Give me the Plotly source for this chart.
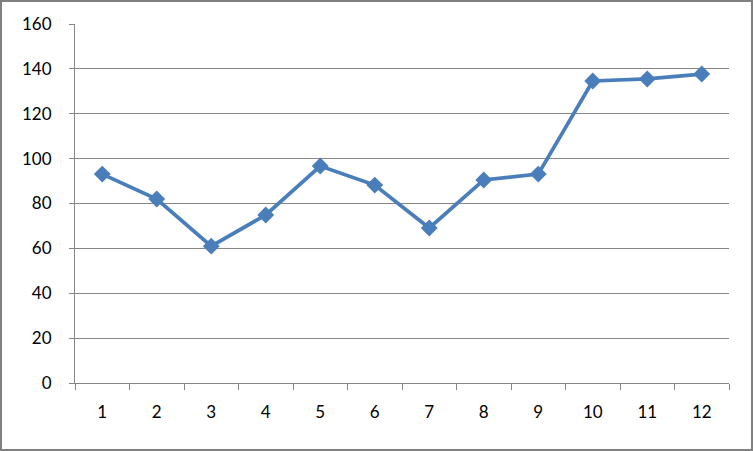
import plotly.graph_objects as go

categories = ["1", "2", "3", "4", "5", "6", "7", "8", "9", "10", "11", "12"]
values = [93.1, 82.0, 61.0, 74.9, 96.7, 88.2, 69.1, 90.5, 93.1, 134.6, 135.5, 137.7]
y_ticks = [0, 20, 40, 60, 80, 100, 120, 140, 160]

W, H = 753, 451
L, R, T, B = 75, 24, 24, 68
pw, ph = W - L - R, H - T - B

fig = go.Figure()
fig.add_trace(go.Scatter(
    x=categories, y=values, mode="lines+markers",
    line=dict(color="#4A7EBB", width=3.75),
    marker=dict(symbol="diamond", size=13, color="#4A7EBB"),
    showlegend=False,
))

font = dict(family="Lato, Carlito, 'Open Sans', sans-serif", size=17, color="#000000")
fig.update_layout(
    width=W, height=H,
    margin=dict(l=L, r=R, t=T, b=B),
    paper_bgcolor="white", plot_bgcolor="white",
    font=font,
    xaxis=dict(
        type="category", tickson="boundaries", ticks="outside", ticklen=6,
        tickcolor="#868686", showline=True, linecolor="#868686", linewidth=1,
        showgrid=False, range=[-0.5, 11.5], ticklabelstandoff=14,
        tickfont=font, zeroline=False,
    ),
    yaxis=dict(
        range=[0, 160], tickvals=y_ticks, ticks="outside", ticklen=5,
        tickcolor="#868686", showline=True, linecolor="#868686", linewidth=1,
        showgrid=True, gridcolor="#868686", gridwidth=1, zeroline=False,
        ticklabelstandoff=14, tickfont=font,
    ),
    shapes=[dict(
        type="rect", xref="paper", yref="paper",
        x0=(1 - L) / pw, x1=(752 - L) / pw,
        y0=(H - B - 450) / ph, y1=(H - B - 1) / ph,
        line=dict(color="#808080", width=2), fillcolor="rgba(0,0,0,0)",
    )],
)

fig.write_html("out.html", config={"displayModeBar": False},
               post_script="document.body.style.margin='0';")
